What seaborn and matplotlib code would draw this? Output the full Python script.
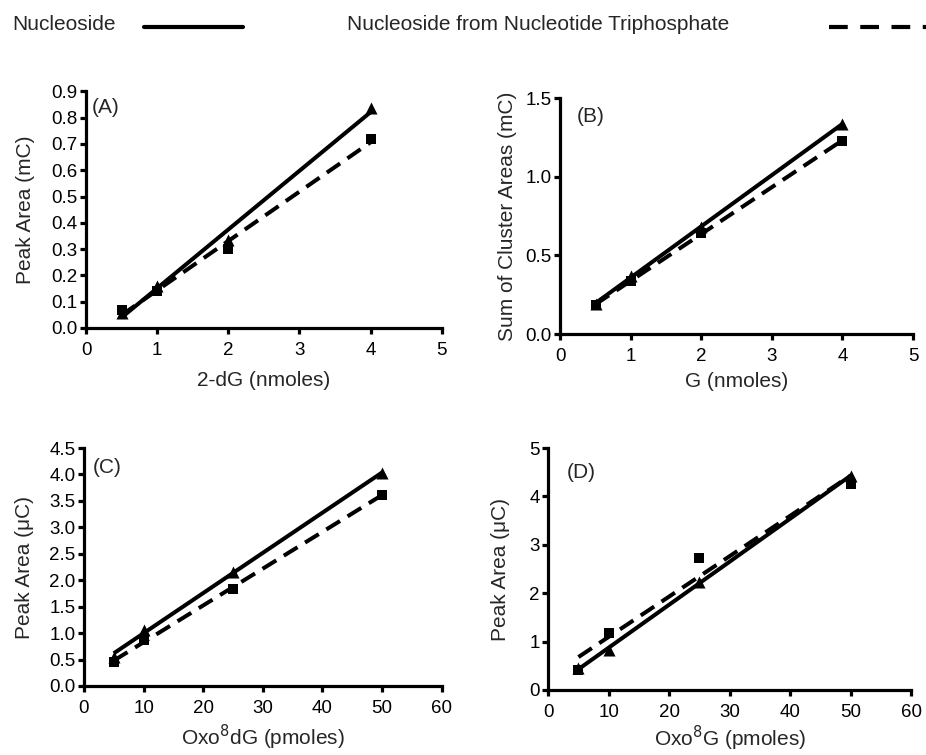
import matplotlib
matplotlib.use("Agg")
import matplotlib.pyplot as plt
from matplotlib.lines import Line2D
import numpy as np
import pandas as pd
import seaborn as sns

# panel A: 2-dG (nmoles) vs peak area (mC)
a_x = [0.5, 1, 2, 4]
a_nuc = [0.057, 0.158, 0.335, 0.837]
a_ntp = [0.07, 0.14, 0.30, 0.72]

# panel B: G (nmoles) vs sum of cluster areas (mC)
b_x = [0.5, 1, 2, 4]
b_nuc = [0.19, 0.37, 0.68, 1.337]
b_ntp = [0.185, 0.34, 0.64, 1.23]

# panel C: Oxo8dG (pmoles) vs peak area (uC)
c_x = [5, 10, 25, 50]
c_nuc = [0.55, 1.06, 2.16, 4.02]
c_ntp = [0.46, 0.87, 1.84, 3.62]

# panel D: Oxo8G (pmoles) vs peak area (uC)
d_x = [5, 10, 25, 50]
d_nuc = [0.45, 0.83, 2.24, 4.42]
d_ntp = [0.41, 1.17, 2.72, 4.26]

legend_labels = ["Nucleoside", "Nucleoside from Nucleotide Triphosphate"]

sns.set_style("ticks")
plt.rcParams['font.family'] = ['Liberation Sans', 'DejaVu Sans']
plt.rcParams['axes.linewidth'] = 2.3
plt.rcParams['xtick.major.width'] = 2.3
plt.rcParams['ytick.major.width'] = 2.3
plt.rcParams['xtick.major.size'] = 4
plt.rcParams['ytick.major.size'] = 4
plt.rcParams['xtick.labelsize'] = 13.5
plt.rcParams['ytick.labelsize'] = 13.5
plt.rcParams['axes.labelsize'] = 15
plt.rcParams['xtick.color'] = 'black'
plt.rcParams['ytick.color'] = 'black'
plt.rcParams['axes.edgecolor'] = 'black'

fig = plt.figure(figsize=(9.26, 7.55), dpi=100)

panels = [
    dict(rect=[0.093, 0.5656, 0.384, 0.3134], x=a_x, nuc=a_nuc, ntp=a_ntp,
         xlim=(0, 5), xticks=np.arange(0, 6, 1), ylim=(0, 0.9),
         yticks=np.arange(0, 0.91, 0.1), yfmt='{:.1f}',
         xlabel='2-dG (nmoles)', ylabel='Peak Area (mC)',
         tag='(A)', tagpos=(0.017, 0.93), ylabelpad=12, xlabelpad=9),
    dict(rect=[0.605, 0.5576, 0.381, 0.3124], x=b_x, nuc=b_nuc, ntp=b_ntp,
         xlim=(0, 5), xticks=np.arange(0, 6, 1), ylim=(0, 1.5),
         yticks=[0, 0.5, 1.0, 1.5], yfmt='{:.1f}',
         xlabel='G (nmoles)', ylabel='Sum of Cluster Areas (mC)',
         tag='(B)', tagpos=(0.048, 0.924), ylabelpad=6, xlabelpad=5),
    dict(rect=[0.0907, 0.0914, 0.3863, 0.3152], x=c_x, nuc=c_nuc, ntp=c_ntp,
         xlim=(0, 60), xticks=np.arange(0, 61, 10), ylim=(0, 4.5),
         yticks=np.arange(0, 4.51, 0.5), yfmt='{:.1f}',
         xlabel='Oxo$^{8}$dG (pmoles)', ylabel='Peak Area (\u03bcC)',
         tag='(C)', tagpos=(0.025, 0.92), ylabelpad=11, xlabelpad=4),
    dict(rect=[0.592, 0.0861, 0.392, 0.3205], x=d_x, nuc=d_nuc, ntp=d_ntp,
         xlim=(0, 60), xticks=np.arange(0, 61, 10), ylim=(0, 5),
         yticks=np.arange(0, 6, 1), yfmt='{:.0f}',
         xlabel='Oxo$^{8}$G (pmoles)', ylabel='Peak Area (\u03bcC)',
         tag='(D)', tagpos=(0.052, 0.897), ylabelpad=14, xlabelpad=2),
]

for p in panels:
    ax = fig.add_axes(p['rect'])
    df = pd.DataFrame({'x': p['x'], 'nuc': p['nuc'], 'ntp': p['ntp']})
    # nucleoside: triangles + solid regression line
    sns.regplot(data=df, x='x', y='nuc', ax=ax, ci=None, marker='^',
                color='black',
                scatter_kws={'s': 75, 'linewidths': 0, 'alpha': 1, 'zorder': 3},
                line_kws={'lw': 2.9, 'solid_capstyle': 'butt'})
    # nucleoside from NTP: squares + dashed regression line
    sns.regplot(data=df, x='x', y='ntp', ax=ax, ci=None, marker='s',
                color='black',
                scatter_kws={'s': 60, 'linewidths': 0, 'alpha': 1, 'zorder': 4},
                line_kws={'lw': 2.9, 'linestyle': (0, (4, 2.2)),
                          'dash_capstyle': 'butt'})
    ax.set_xlim(*p['xlim'])
    ax.set_ylim(*p['ylim'])
    ax.set_xticks(p['xticks'])
    ax.set_yticks(p['yticks'])
    ax.set_yticklabels([p['yfmt'].format(v) for v in p['yticks']])
    ax.set_xlabel(p['xlabel'], labelpad=p['xlabelpad'])
    ax.set_ylabel(p['ylabel'], labelpad=p['ylabelpad'])
    ax.tick_params(axis='x', pad=6)
    ax.tick_params(axis='y', pad=2)
    sns.despine(ax=ax)
    for s in ['left', 'bottom']:
        ax.spines[s].set_clip_on(False)
    ax.text(p['tagpos'][0], p['tagpos'][1], p['tag'], transform=ax.transAxes,
            fontsize=15, ha='left', va='center')

# legend strip across the top
fig.text(12 / 926, 1 - 24 / 755, legend_labels[0], fontsize=15,
         ha='left', va='center')
fig.add_artist(Line2D([144 / 926, 243 / 926], [1 - 27 / 755, 1 - 27 / 755],
                      transform=fig.transFigure, color='black', lw=3))
fig.text(347 / 926, 1 - 24 / 755, legend_labels[1], fontsize=15,
         ha='left', va='center')
fig.add_artist(Line2D([829 / 926, 940 / 926], [1 - 27 / 755, 1 - 27 / 755],
                      transform=fig.transFigure, color='black', lw=3,
                      linestyle=(0, (4.5, 3))))

fig.savefig('out.png', dpi=100)
